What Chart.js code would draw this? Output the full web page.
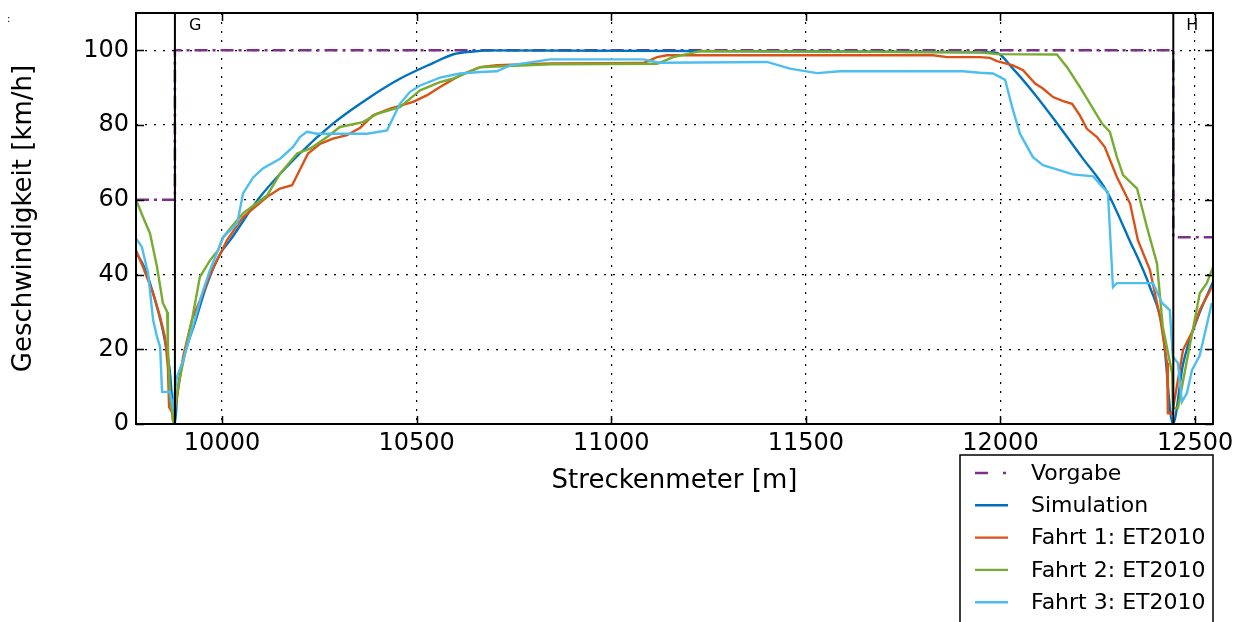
<!DOCTYPE html>
<html>
<head>
<meta charset="utf-8">
<script src="https://cdn.jsdelivr.net/npm/chart.js@4.4.1/dist/chart.umd.min.js"></script>
<style>
  html, body { margin: 0; padding: 0; background: #fff; }
  #wrap { width: 1251px; height: 622px; position: relative; }
</style>
</head>
<body>
<div id="wrap"><canvas id="speedChart"></canvas></div>
<script>
// axis ticks
const xTicks = [10000, 10500, 11000, 11500, 12000, 12500];
const yTicks = [0, 20, 40, 60, 80, 100];

// marker positions (G / H)
const gX = 9879;
const hX = 12444;

// Vorgabe (speed limit)
const vorgX = [9779, 9879, 9879, 12444, 12444, 12546];
const vorgV = [60, 60, 100, 100, 50, 50];

// Simulation
const simX = [9779, 9800, 9820, 9848, 9865, 9879, 9885, 9900, 9930, 9960, 9995, 10021, 10098, 10200, 10285, 10373, 10457, 10542, 10593, 10645, 10700, 11960, 11991, 12032, 12090, 12148, 12210, 12274, 12328, 12384, 12417, 12443, 12469, 12505, 12546];
const simV = [46, 42, 36, 25, 15, 0, 8, 17, 27, 37, 45.5, 49.2, 60.8, 72.4, 80.4, 87, 92.4, 96.6, 98.9, 99.7, 100, 99.5, 99.3, 95.1, 88, 80.1, 71.3, 62.1, 50, 36.6, 25, 0, 16, 28, 38];

// Fahrt 1
const f1X = [9779, 9797, 9823, 9841, 9854, 9861, 9864, 9872, 9874, 9884, 9900, 9923, 9943, 9969, 10013, 10054, 10116, 10149, 10180, 10221, 10252, 10285, 10321, 10355, 10388, 10432, 10491, 10527, 10560, 10611, 10663, 10706, 10843, 11082, 11118, 11143, 11827, 11863, 11947, 11973, 11991, 12032, 12058, 12089, 12109, 12135, 12161, 12184, 12204, 12222, 12248, 12268, 12299, 12333, 12353, 12384, 12410, 12428, 12430, 12441, 12453, 12469, 12494, 12512, 12543];
const f1V = [46.5, 42, 35, 28.6, 23, 15, 4.5, 3, 1, 7, 18, 28, 33, 40, 49.2, 55.4, 60.8, 63, 63.9, 72.4, 75, 76.4, 77.3, 79.3, 82.6, 84.4, 86.2, 88, 90.2, 93.3, 95.5, 96, 96.5, 96.6, 98.2, 98.7, 98.7, 98.2, 98.2, 98, 97.1, 96, 94.7, 91.1, 89.8, 87.5, 86.4, 85.7, 82.6, 79, 76.8, 74.1, 66.1, 59, 49.2, 41.2, 28.6, 16.3, 2.9, 2.7, 10, 19.8, 25, 30.5, 36.6];

// Fahrt 2
const f2X = [9779, 9797, 9815, 9833, 9848, 9859, 9861, 9866, 9874, 9887, 9905, 9923, 9943, 9969, 9990, 10003, 10028, 10054, 10116, 10149, 10193, 10226, 10270, 10303, 10362, 10398, 10457, 10509, 10560, 10593, 10663, 10706, 10843, 11118, 11159, 11228, 11947, 11991, 12145, 12171, 12204, 12261, 12281, 12299, 12315, 12351, 12376, 12402, 12417, 12441, 12443, 12456, 12479, 12512, 12530, 12546];
const f2V = [60, 55.4, 51, 42, 32.4, 30, 20.6, 8.2, 1, 10, 19, 28, 39.3, 43.8, 46.5, 50, 53.2, 56.4, 61.2, 67, 72.4, 73.7, 76.8, 79.5, 80.8, 83, 84.8, 89.3, 91.5, 92.4, 95.5, 95.7, 96.3, 96.4, 98.2, 99.8, 99.5, 99, 98.9, 95.5, 90.2, 80.4, 78.2, 71.5, 66.6, 63, 52.8, 43, 26, 13.6, 4.3, 4.3, 17, 35, 37.7, 42];

// Fahrt 3
const f3X = [9779, 9794, 9810, 9823, 9833, 9841, 9846, 9866, 9874, 9884, 9900, 9925, 9949, 9969, 10003, 10039, 10054, 10080, 10105, 10149, 10182, 10200, 10218, 10244, 10373, 10424, 10457, 10483, 10509, 10560, 10611, 10663, 10706, 10740, 10843, 10902, 11082, 11125, 11400, 11459, 11529, 11588, 11904, 11947, 11981, 12012, 12030, 12050, 12083, 12109, 12153, 12186, 12238, 12261, 12276, 12289, 12299, 12392, 12415, 12435, 12443, 12456, 12466, 12479, 12492, 12512, 12543];
const f3V = [49.7, 47.4, 40.4, 27.8, 23.3, 20.6, 8.6, 8.6, 4.5, 12.6, 17, 26, 35, 41.2, 50, 53.7, 61.7, 66, 68.4, 71, 74.1, 76.8, 78.2, 77.7, 77.7, 78.6, 85.7, 88.9, 90.6, 92.7, 93.8, 94.2, 94.4, 96, 97.6, 97.6, 97.6, 96.7, 96.9, 95.1, 93.9, 94.4, 94.4, 94, 93.8, 92.1, 84.8, 77.7, 71.5, 69.3, 67.9, 66.8, 66.3, 63.5, 62.1, 36.6, 37.7, 37.7, 32.4, 30.5, 17.9, 16.3, 5.9, 8.3, 14.4, 18.4, 32.4];

const toPoints = (xs, ys) => xs.map((x, i) => ({ x: x, y: ys[i] }));

const FONT = "'DejaVu Sans', sans-serif";
Chart.defaults.font.family = FONT;
Chart.defaults.color = "#000";

// frame, inner ticks, G/H labels, axis titles and legend
const decorations = {
  id: "decorations",
  afterDraw(chart) {
    const { ctx, chartArea: a, scales } = chart;
    ctx.save();

    // inside tick marks on all four sides
    ctx.strokeStyle = "#000";
    ctx.lineWidth = 1.5;
    ctx.beginPath();
    xTicks.forEach((v) => {
      const px = Math.round(scales.x.getPixelForValue(v)) + 0.5;
      ctx.moveTo(px, a.bottom); ctx.lineTo(px, a.bottom - 8);
      ctx.moveTo(px, a.top); ctx.lineTo(px, a.top + 8);
    });
    yTicks.forEach((v) => {
      const py = Math.round(scales.y.getPixelForValue(v)) + 0.5;
      ctx.moveTo(a.left, py); ctx.lineTo(a.left + 8, py);
      ctx.moveTo(a.right, py); ctx.lineTo(a.right - 8, py);
    });
    ctx.stroke();

    ctx.lineWidth = 2;
    ctx.strokeRect(a.left, a.top, a.right - a.left, a.bottom - a.top);

    // marker labels
    ctx.fillStyle = "#000";
    ctx.font = "16px " + FONT;
    ctx.textBaseline = "middle";
    ctx.textAlign = "left";
    ctx.fillText("G", scales.x.getPixelForValue(gX) + 14, a.top + 13);
    ctx.fillText("H", scales.x.getPixelForValue(hX) + 13, a.top + 13);

    // stray mark top-left
    ctx.font = "10px " + FONT;
    ctx.fillText(":", 7, 19);

    // axis titles
    ctx.font = "26px " + FONT;
    ctx.textAlign = "center";
    ctx.fillText("Streckenmeter [m]", (a.left + a.right) / 2, 481);
    ctx.save();
    ctx.translate(24, (a.top + a.bottom) / 2);
    ctx.rotate(-Math.PI / 2);
    ctx.fillText("Geschwindigkeit [km/h]", 0, 0);
    ctx.restore();

    // legend box (runs off the bottom edge)
    const lx = 960, ly = 455, lw = 253, lh = 190;
    ctx.fillStyle = "#fff";
    ctx.fillRect(lx, ly, lw, lh);
    ctx.strokeStyle = "#000";
    ctx.lineWidth = 1.5;
    ctx.strokeRect(lx, ly, lw, lh);

    ctx.font = "22px " + FONT;
    ctx.textAlign = "left";
    ctx.textBaseline = "middle";
    const items = chart.data.datasets.filter((d) => d.label);
    items.forEach((d, i) => {
      const y = 473 + i * 32.3;
      ctx.save();
      ctx.strokeStyle = d.borderColor;
      ctx.lineWidth = d.borderWidth;
      ctx.setLineDash(d.legendDash || []);
      ctx.beginPath();
      ctx.moveTo(975, y);
      ctx.lineTo(1008, y);
      ctx.stroke();
      ctx.restore();
      ctx.fillStyle = "#000";
      ctx.fillText(d.label, 1031, y + 1);
    });

    ctx.restore();
  },
};

const ctx = document.getElementById("speedChart").getContext("2d");
const speedChart = new Chart(ctx, {
  type: "line",
  data: {
    datasets: [
      {
        label: "Vorgabe",
        data: toPoints(vorgX, vorgV),
        borderColor: "#7E2F8E",
        borderWidth: 2.5,
        borderDash: [13, 5, 3, 5],
        legendDash: [13, 15, 3, 10],
        order: 5,
      },
      {
        label: "Simulation",
        data: toPoints(simX, simV),
        borderColor: "#0072BD",
        borderWidth: 2.4,
        cubicInterpolationMode: "monotone",
        order: 4,
      },
      {
        label: "Fahrt 1: ET2010",
        data: toPoints(f1X, f1V),
        borderColor: "#D95319",
        borderWidth: 2.4,
        order: 3,
      },
      {
        label: "Fahrt 2: ET2010",
        data: toPoints(f2X, f2V),
        borderColor: "#77AC30",
        borderWidth: 2.4,
        order: 2,
      },
      {
        label: "Fahrt 3: ET2010",
        data: toPoints(f3X, f3V),
        borderColor: "#4DBEEE",
        borderWidth: 2.4,
        order: 1,
      },
      {
        label: "",
        data: [{ x: gX, y: 0 }, { x: gX, y: 110 }],
        borderColor: "#000",
        borderWidth: 2,
        order: 0,
      },
      {
        label: "",
        data: [{ x: hX, y: 0 }, { x: hX, y: 110 }],
        borderColor: "#000",
        borderWidth: 2,
        order: 0,
      },
    ],
  },
  options: {
    responsive: true,
    maintainAspectRatio: false,
    animation: false,
    events: [],
    elements: {
      point: { radius: 0 },
      line: { tension: 0, fill: false },
    },
    layout: {
      padding: { left: 0, top: 13, right: 38, bottom: 0 },
    },
    plugins: {
      legend: { display: false },
      tooltip: { enabled: false },
    },
    scales: {
      x: {
        type: "linear",
        min: 9779,
        max: 12546,
        afterBuildTicks: (scale) => {
          scale.ticks = xTicks.map((v) => ({ value: v }));
        },
        afterFit: (scale) => {
          scale.height = 198;
          scale.paddingLeft = 0;
          scale.paddingRight = 0;
        },
        ticks: {
          font: { size: 24 },
          color: "#000",
          padding: 5,
          maxRotation: 0,
          callback: (v) => String(v),
        },
        grid: {
          color: "#000",
          lineWidth: 1.2,
          drawTicks: false,
        },
        border: { display: false, dash: [2, 7] },
      },
      y: {
        type: "linear",
        min: 0,
        max: 110,
        afterBuildTicks: (scale) => {
          scale.ticks = yTicks.map((v) => ({ value: v }));
        },
        afterFit: (scale) => {
          scale.width = 136;
          scale.paddingTop = 0;
          scale.paddingBottom = 0;
        },
        ticks: {
          font: { size: 24 },
          color: "#000",
          padding: 7,
        },
        grid: {
          color: "#000",
          lineWidth: 1.2,
          drawTicks: false,
        },
        border: { display: false, dash: [2, 7] },
      },
    },
  },
  plugins: [decorations],
});
</script>
</body>
</html>
